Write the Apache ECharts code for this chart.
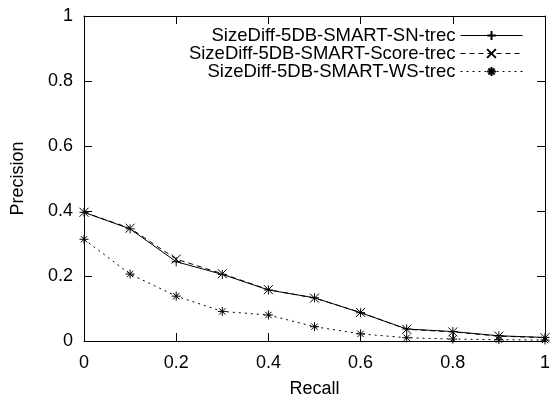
<!DOCTYPE html>
<html><head><meta charset="utf-8">
<script src="https://cdn.jsdelivr.net/npm/echarts@6/dist/echarts.min.js"></script>
<style>html,body{margin:0;padding:0;background:#fff}#c{width:555px;height:397px}</style>
</head><body><div id="c"></div>
<script>
const recall = [0, 0.1, 0.2, 0.3, 0.4, 0.5, 0.6, 0.7, 0.8, 0.9, 1.0];
const snName = 'SizeDiff-5DB-SMART-SN-trec';
const scoreName = 'SizeDiff-5DB-SMART-Score-trec';
const wsName = 'SizeDiff-5DB-SMART-WS-trec';
const snValues = [0.396, 0.345, 0.244, 0.205, 0.157, 0.133, 0.087, 0.037, 0.029, 0.016, 0.011];
const scoreValues = [0.396, 0.347, 0.252, 0.207, 0.158, 0.132, 0.088, 0.036, 0.028, 0.015, 0.010];
const wsValues = [0.313, 0.206, 0.138, 0.091, 0.080, 0.044, 0.022, 0.010, 0.006, 0.004, 0.003];
const xTicks = [0, 0.2, 0.4, 0.6, 0.8, 1];
const yTicks = [0, 0.2, 0.4, 0.6, 0.8, 1];

const FONT = 'Liberation Sans, Arial, Helvetica, sans-serif';
const FS = 18;
const plusSym = 'path://M5,0L5,10M0,5L10,5';
const crossSym = 'path://M0,0L10,10M10,0L0,10';
const starSym = 'path://M5,0L5,10M0,5L10,5M1.5,1.5L8.5,8.5M8.5,1.5L1.5,8.5';
const fmt = v => (Math.abs(v - 1) < 1e-9 ? '1' : (Math.abs(v) < 1e-9 ? '0' : String(Math.round(v * 10) / 10)));

function pts(vals) { return recall.map((r, i) => [r, vals[i]]); }
function series(name, vals, sym, dash) {
  return {
    name: name, type: 'line', data: pts(vals), symbol: sym, symbolSize: 9,
    showAllSymbol: true, animation: false,
    lineStyle: { color: '#000', width: 1, type: dash },
    itemStyle: { color: 'rgba(0,0,0,0)', borderColor: '#000', borderWidth: 1 },
    emphasis: { disabled: true }
  };
}
const axisCommon = {
  type: 'value', min: 0, max: 1, interval: 0.2,
  axisLine: { show: true, onZero: false, lineStyle: { color: '#000', width: 1 } },
  axisTick: { show: true, inside: true, length: 8, lineStyle: { color: '#000', width: 1 } },
  splitLine: { show: false }
};
function legendFor(name, top) {
  return {
    data: [name], right: 32, top: top, align: 'right', itemWidth: 62, itemHeight: 11,
    textStyle: { fontFamily: FONT, fontSize: 18.5, color: '#000' },
    lineStyle: { width: 1 },
    itemGap: 0, padding: 0, selectedMode: false
  };
}
const chart = echarts.init(document.getElementById('c'));
chart.setOption({
  backgroundColor: '#fff',
  animation: false,
  grid: { left: 84, right: 10, top: 16, bottom: 56, containLabel: false, outerBoundsMode: 'none' },
  legend: [legendFor(snName, 26), legendFor(scoreName, 44), legendFor(wsName, 62)],
  xAxis: [
    Object.assign({}, axisCommon, {
      position: 'bottom', name: 'Recall', nameLocation: 'middle', nameGap: 39,
      nameTextStyle: { fontFamily: FONT, fontSize: FS, color: '#000' },
      axisLabel: { fontFamily: FONT, fontSize: FS, color: '#000', margin: 13, formatter: fmt, customValues: xTicks }
    }),
    Object.assign({}, axisCommon, { position: 'top', axisLabel: { show: false } })
  ],
  yAxis: [
    Object.assign({}, axisCommon, {
      position: 'left', name: 'Precision', nameLocation: 'middle', nameGap: 57,
      nameTextStyle: { fontFamily: FONT, fontSize: FS, color: '#000' },
      axisLabel: { fontFamily: FONT, fontSize: FS, color: '#000', margin: 11, formatter: fmt, customValues: yTicks }
    }),
    Object.assign({}, axisCommon, { position: 'right', axisLabel: { show: false } })
  ],
  series: [
    series(snName, snValues, plusSym, 'solid'),
    series(scoreName, scoreValues, crossSym, [5, 4]),
    series(wsName, wsValues, starSym, [2, 4])
  ]
});
</script></body></html>
